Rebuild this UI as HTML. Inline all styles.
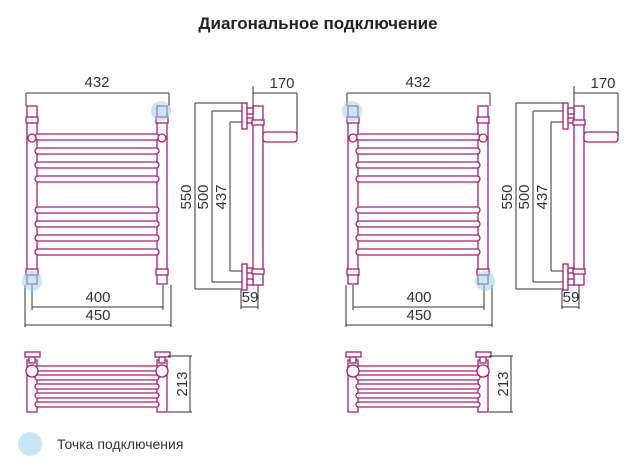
<!DOCTYPE html>
<html><head><meta charset="utf-8"><style>
body{margin:0;background:#fff;}
svg{display:block;}
text{font-family:"Liberation Sans",sans-serif;}
.p{fill:#fff;stroke:#a3206f;stroke-width:1.3;}
.d{stroke:#333;stroke-width:1;fill:none;}
.t{font-size:15px;fill:#333;}
.c{fill:#9fd0ec;fill-opacity:0.55;}
</style></head><body>
<svg width="636" height="476" viewBox="0 0 636 476">
<text x="318" y="29" text-anchor="middle" font-size="17" font-weight="bold" fill="#222">Диагональное подключение</text>
<defs>
<g id="panel">
 <line class="d" x1="26" y1="93" x2="169" y2="93"/>
 <line class="d" x1="26" y1="93" x2="26" y2="106"/>
 <line class="d" x1="169" y1="93" x2="169" y2="106"/>
 <text class="t" x="97" y="87" text-anchor="middle">432</text>
 <rect class="p" x="27" y="106" width="10" height="178"/>
 <rect class="p" x="157" y="106" width="10" height="178"/>
 <g class="p">
  <rect x="26" y="117" width="12" height="6"/>
  <rect x="156" y="117" width="12" height="6"/>
  <rect x="26" y="269" width="12" height="6"/>
  <rect x="156" y="269" width="12" height="6"/>
 </g>
 <g class="p">
  <rect x="35" y="134" width="124" height="6" rx="3"/>
  <rect x="35" y="148" width="124" height="6" rx="3"/>
  <rect x="35" y="162" width="124" height="6" rx="3"/>
  <rect x="35" y="176" width="124" height="6" rx="3"/>
  <rect x="35" y="207" width="124" height="6" rx="3"/>
  <rect x="35" y="221" width="124" height="6" rx="3"/>
  <rect x="35" y="235" width="124" height="6" rx="3"/>
  <rect x="35" y="249" width="124" height="6" rx="3"/>
  <circle cx="32" cy="138" r="4"/>
  <circle cx="162" cy="138" r="4"/>
 </g>
 <line class="d" x1="32" y1="285" x2="32" y2="310"/>
 <line class="d" x1="163" y1="285" x2="163" y2="310"/>
 <line class="d" x1="32" y1="307" x2="163" y2="307"/>
 <text class="t" x="98" y="302" text-anchor="middle">400</text>
 <line class="d" x1="25" y1="285" x2="25" y2="327"/>
 <line class="d" x1="171" y1="285" x2="171" y2="327"/>
 <line class="d" x1="25" y1="325" x2="171" y2="325"/>
 <text class="t" x="98" y="320" text-anchor="middle">450</text>
 <line class="d" x1="195" y1="103" x2="245" y2="103"/>
 <line class="d" x1="195" y1="103" x2="195" y2="289"/>
 <line class="d" x1="195" y1="289" x2="245" y2="289"/>
 <line class="d" x1="212" y1="111" x2="245" y2="111"/>
 <line class="d" x1="212" y1="111" x2="212" y2="282"/>
 <line class="d" x1="212" y1="282" x2="245" y2="282"/>
 <line class="d" x1="230" y1="122" x2="245" y2="122"/>
 <line class="d" x1="230" y1="122" x2="230" y2="271"/>
 <line class="d" x1="230" y1="271" x2="245" y2="271"/>
 <text class="t" transform="translate(191,197) rotate(-90)" text-anchor="middle">550</text>
 <text class="t" transform="translate(208,197) rotate(-90)" text-anchor="middle">500</text>
 <text class="t" transform="translate(226,197) rotate(-90)" text-anchor="middle">437</text>
 <rect class="p" x="253" y="106" width="10" height="179"/>
 <rect class="p" x="263" y="132" width="34" height="10" rx="3"/>
 <g class="p">
  <rect x="242" y="103" width="5" height="26"/>
  <rect x="247" y="108" width="6" height="6"/>
  <rect x="247" y="118" width="6" height="5"/>
  <rect x="252" y="120" width="12" height="5"/>
  <rect x="242" y="264" width="5" height="26"/>
  <rect x="247" y="268" width="6" height="5"/>
  <rect x="247" y="279" width="6" height="6"/>
  <rect x="252" y="269" width="12" height="5"/>
 </g>
 <line class="d" x1="253" y1="93" x2="297" y2="93"/>
 <line class="d" x1="253" y1="86" x2="253" y2="106"/>
 <line class="d" x1="297" y1="93" x2="297" y2="135"/>
 <text class="t" x="282" y="88" text-anchor="middle">170</text>
 <line class="d" x1="241" y1="290" x2="241" y2="309"/>
 <line class="d" x1="258" y1="285" x2="258" y2="309"/>
 <line class="d" x1="241" y1="307" x2="258" y2="307"/>
 <text class="t" x="250" y="302" text-anchor="middle">59</text>
 <g class="p">
  <rect x="27" y="360" width="10" height="52"/>
  <rect x="157" y="360" width="10" height="52"/>
  <rect x="25" y="352" width="15" height="5"/>
  <rect x="155" y="352" width="15" height="5"/>
  <rect x="29" y="357" width="6" height="6"/>
  <rect x="159" y="357" width="6" height="6"/>
  <rect x="35" y="366" width="124" height="5" rx="2.5"/>
  <rect x="35" y="375" width="124" height="5" rx="2.5"/>
  <rect x="35" y="384" width="124" height="5" rx="2.5"/>
  <rect x="35" y="393" width="124" height="5" rx="2.5"/>
  <rect x="35" y="402" width="124" height="5" rx="2.5"/>
  <circle cx="32" cy="371" r="6"/>
  <circle cx="162" cy="371" r="6"/>
 </g>
 <line class="d" x1="168" y1="356" x2="192" y2="356"/>
 <line class="d" x1="190" y1="356" x2="190" y2="412"/>
 <line class="d" x1="168" y1="412" x2="192" y2="412"/>
 <text class="t" transform="translate(187,384) rotate(-90)" text-anchor="middle">213</text>
</g>
</defs>
<use href="#panel"/>
<use href="#panel" transform="translate(321,0)"/>
<circle class="c" cx="161" cy="111" r="10"/>
<circle class="c" cx="32" cy="281" r="10"/>
<circle class="c" cx="352" cy="111" r="10"/>
<circle class="c" cx="485" cy="281" r="10"/>
<circle cx="30" cy="444" r="12" fill="#c9e6f5"/>
<text x="57" y="449" font-size="14" fill="#333">Точка подключения</text>
</svg>
</body></html>
